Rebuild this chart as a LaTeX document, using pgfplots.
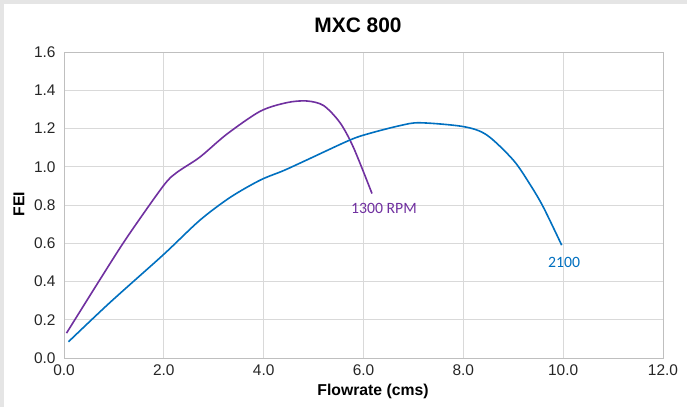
\documentclass[border=0pt]{standalone}
\usepackage{pgfplots}
\pgfplotsset{compat=1.18}
\usepackage{fontspec}
\setmainfont{Liberation Sans}
\newfontfamily\calibri{Carlito}
\definecolor{cpurple}{HTML}{7030A0}
\definecolor{cblue}{HTML}{0070C0}
\begin{document}
\begin{tikzpicture}[x=1bp,y=1bp]
\useasboundingbox (0,0) rectangle (687,407);
\fill[white] (0,0) rectangle (687,407);
\fill[black!10] (0,0) rectangle (3.5,407);
\fill[black!10] (0,402.5) rectangle (687,407);
\begin{axis}[
  at={(64bp,49bp)}, anchor=south west,
  scale only axis, width=599bp, height=306bp,
  xmin=0, xmax=12, ymin=0, ymax=1.6,
  xtick={0,2,4,6,8,10,12},
  ytick={0,0.2,0.4,0.6,0.8,1.0,1.2,1.4,1.6},
  grid=major,
  grid style={color=black!15, line width=0.8bp},
  axis line style={black!25, line width=0.8bp},
  major tick style={draw=none},
  /pgf/number format/assume math mode=true,
  /pgf/number format/fixed, /pgf/number format/fixed zerofill,
  /pgf/number format/precision=1,
  tick label style={font=\fontsize{15.5}{17}\selectfont, text=black!85},
  xticklabel style={yshift=-3bp},
  yticklabel style={xshift=-5bp},
  clip=false,
]
\addplot[cpurple, line width=1.6bp, smooth, tension=0.5] coordinates {
 (0.05,0.13) (0.72,0.41) (1.26,0.63) (1.99,0.90) (2.26,0.97) (2.72,1.05)
 (3.26,1.17) (3.93,1.29) (4.46,1.335) (4.86,1.344) (5.20,1.32) (5.53,1.23)
 (5.80,1.10) (6.17,0.86)
};
\addplot[cblue, line width=1.6bp, smooth, tension=0.5] coordinates {
 (0.09,0.085) (0.92,0.29) (1.99,0.54) (2.72,0.72) (3.33,0.84) (3.93,0.93)
 (4.40,0.98) (4.86,1.035) (5.73,1.14) (6.13,1.175) (6.73,1.215) (7.13,1.23)
 (8.0,1.21) (8.47,1.166) (9.0,1.035) (9.33,0.91) (9.60,0.79) (9.97,0.59)
};
\node[text=cpurple, font=\calibri\fontsize{15.8}{17}\selectfont] at (axis cs:6.41,0.78) {1300 RPM};
\node[text=cblue, font=\calibri\fontsize{15.8}{17}\selectfont] at (axis cs:10.02,0.50) {2100};
\end{axis}
\node[font=\bfseries\fontsize{21}{23}\selectfont] at (358,382) {MXC 800};
\node[font=\bfseries\fontsize{15.8}{17}\selectfont] at (373,16) {Flowrate (cms)};
\node[font=\bfseries\fontsize{15.8}{17}\selectfont, rotate=90] at (19,203) {FEI};
\end{tikzpicture}
\end{document}
